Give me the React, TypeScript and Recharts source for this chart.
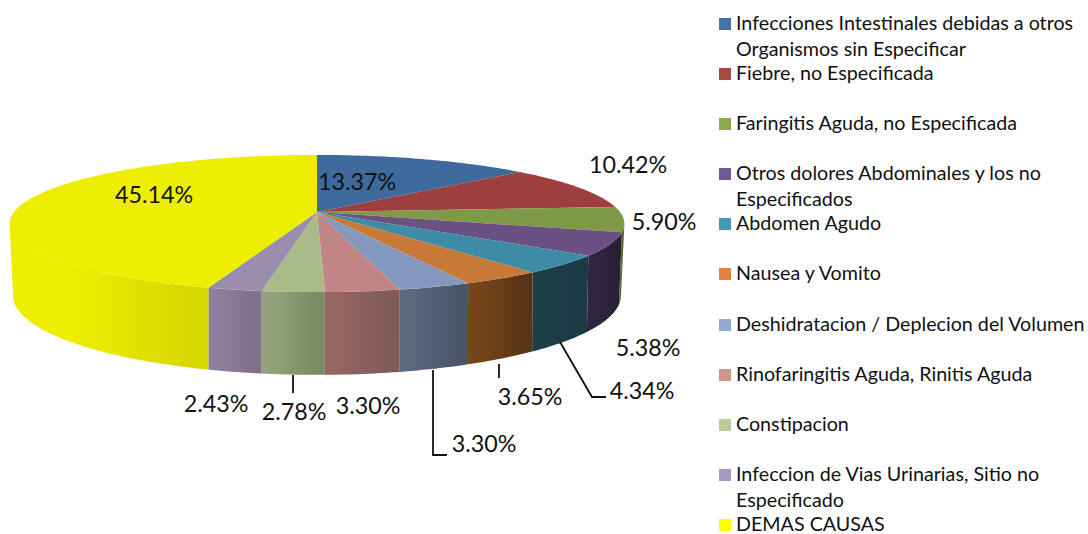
import { PieChart, Pie, Legend } from "recharts";

const causes = [
  "Infecciones Intestinales debidas a otros Organismos sin Especificar",
  "Fiebre, no Especificada",
  "Faringitis Aguda, no Especificada",
  "Otros dolores Abdominales y los no Especificados",
  "Abdomen Agudo",
  "Nausea y Vomito",
  "Deshidratacion / Deplecion del Volumen",
  "Rinofaringitis Aguda, Rinitis Aguda",
  "Constipacion",
  "Infeccion de Vias Urinarias, Sitio no Especificado",
  "DEMAS CAUSAS",
];
const percents = [13.37, 10.42, 5.9, 5.38, 4.34, 3.65, 3.3, 3.3, 2.78, 2.43, 45.14];

const topColors = ["#3E6A9E", "#9C3F3E", "#7F9A47", "#6A5083", "#3D8BA4", "#C8793A", "#8599BE", "#C08584", "#ABBB87", "#9A8DAE", "#EEEE00"];
const legendColors = ["#4674AA", "#A94745", "#8CA950", "#725891", "#4299B2", "#DF833E", "#93A9D0", "#D39391", "#B9CE95", "#A799BE", "#FFFF00"];
const wallLight = ["#2A4568", "#6A2B2A", "#5A7030", "#2F2540", "#1C3F4A", "#774519", "#5A6880", "#966662", "#93A27A", "#8F7F9F", "#EEEE00"];
const wallDark = ["#2A4568", "#6A2B2A", "#4E6228", "#2A2035", "#1A3A44", "#5A3416", "#4A5568", "#7F5A58", "#7C8C62", "#807088", "#D6D600"];

// where each percentage sits on the page
const labelSpots = [
  [357, 181], [628, 164], [664, 221], [648, 347], [642, 390], [530, 396],
  [484, 443], [368, 405], [294, 411], [216, 403], [154, 194],
];
// leader lines, only where the original has them
const leaders: Record<number, string> = {
  4: "M560 342 L592 397 L606 397",
  5: "M499 364 L499 378",
  6: "M433 370 L433 455 L447 455",
  8: "M293 375 L293 393",
};

const tableData = causes.map((name, i) => ({ name, value: percents[i], fill: topColors[i] }));

// 3D look: the circle is pushed through a small perspective, top and bottom rims differ
const topRim = (p: any, deg: number) => {
  const t = ((90 - deg) * Math.PI) / 180;
  const u = Math.sin(t);
  const v = -Math.cos(t);
  const w = 1 - 0.168 * v;
  return [p.cx + (p.outerRadius * u) / w, p.cy + (p.outerRadius * 0.22 * v) / w];
};
const bottomRim = (p: any, deg: number) => {
  const t = ((90 - deg) * Math.PI) / 180;
  const u = Math.sin(t);
  const v = -Math.cos(t);
  const w = 1 - 0.18 * v;
  return [p.cx + (p.outerRadius * 0.987 * u) / w, p.cy + 69 + (p.outerRadius * 0.254 * v) / w];
};
const toPath = (pts: number[][]) => pts.map((q, i) => `${i ? "L" : "M"}${q[0].toFixed(2)} ${q[1].toFixed(2)}`).join(" ");

const TopSlice = (props: any) => {
  const pts: number[][] = [[props.cx, props.cy]];
  const steps = Math.max(4, Math.ceil(Math.abs(props.endAngle - props.startAngle)));
  for (let s = 0; s <= steps; s++) {
    pts.push(topRim(props, props.startAngle + ((props.endAngle - props.startAngle) * s) / steps));
  }
  return <path d={toPath(pts) + " Z"} fill={props.fill} />;
};

const WallSlice = (props: any) => {
  const i = causes.indexOf(props.name);
  // only the front of the drum is visible (recharts angles: -10 to -170 from 3 o'clock)
  const hi = Math.min(props.startAngle, -10);
  const lo = Math.max(props.endAngle, -170);
  if (hi <= lo) return null;
  const top: number[][] = [];
  const bottom: number[][] = [];
  const steps = Math.max(4, Math.ceil(hi - lo));
  for (let s = 0; s <= steps; s++) {
    const a = hi + ((lo - hi) * s) / steps;
    top.push(topRim(props, a));
    bottom.unshift(bottomRim(props, a));
  }
  return (
    <g>
      <defs>
        <linearGradient id={`wall-${i}`} x1="0" y1="0" x2="1" y2="0">
          <stop offset={i === 10 ? 0.3 : 0.15} stopColor={wallLight[i]} />
          <stop offset={i === 10 ? 0.95 : 0.85} stopColor={wallDark[i]} />
        </linearGradient>
      </defs>
      <path d={toPath([...top, ...bottom]) + " Z"} fill={`url(#wall-${i})`} />
    </g>
  );
};

const renderLabel = (props: any) => {
  const i = causes.indexOf(props.name);
  return (
    <g>
      {leaders[i] && <path d={leaders[i]} fill="none" stroke="#111" strokeWidth={1.8} />}
      <text x={labelSpots[i][0]} y={labelSpots[i][1]} textAnchor="middle" dominantBaseline="central" fontFamily="Lato" fontSize={23.3} fill="#111">
        {percents[i].toFixed(2)}%
      </text>
    </g>
  );
};

const LegendList = () => (
  <div style={{ fontFamily: "Lato", fontSize: 19.7, lineHeight: "26px", color: "#111" }}>
    {causes.map((name, i) => (
      <div key={name} style={{ position: "relative", height: 50.1, paddingLeft: 17 }}>
        <span style={{ position: "absolute", left: 0, top: 8, width: 12, height: 12, background: legendColors[i] }} />
        {name}
      </div>
    ))}
  </div>
);

export default function App() {
  return (
    <div style={{ position: "absolute", left: 0, top: 0 }}>
      <PieChart width={1088} height={534} margin={{ top: 0, right: 0, bottom: 0, left: 0 }}>
        <Pie
          data={tableData}
          dataKey="value"
          nameKey="name"
          cx={317}
          cy={212}
          outerRadius={303}
          startAngle={90}
          endAngle={-270}
          stroke="none"
          legendType="none"
          shape={WallSlice}
          isAnimationActive={false}
        />
        <Pie
          data={tableData}
          dataKey="value"
          nameKey="name"
          cx={317}
          cy={212}
          outerRadius={303}
          startAngle={90}
          endAngle={-270}
          stroke="none"
          shape={TopSlice}
          label={renderLabel}
          labelLine={false}
          isAnimationActive={false}
        />
        <Legend content={LegendList} wrapperStyle={{ left: 719, top: 10, width: 369, bottom: "auto" }} />
      </PieChart>
    </div>
  );
}
